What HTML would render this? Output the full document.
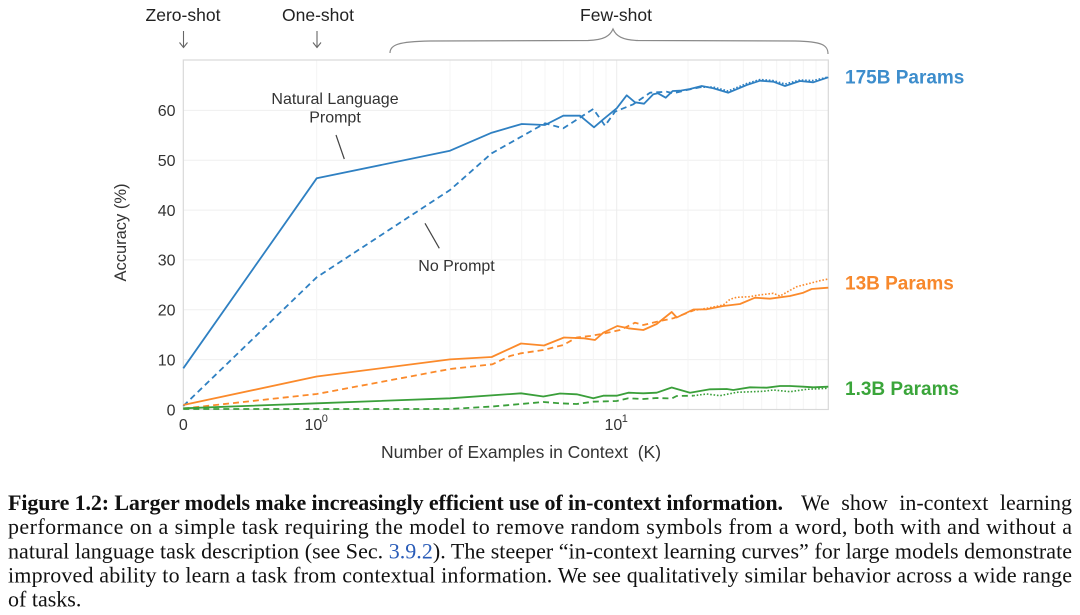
<!DOCTYPE html>
<html>
<head>
<meta charset="utf-8">
<style>
html,body{margin:0;padding:0;background:#fff;}
svg{display:block;}
</style>
</head>
<body>
<svg width="1080" height="615" viewBox="0 0 1080 615" xmlns="http://www.w3.org/2000/svg">
<rect x="0" y="0" width="1080" height="615" fill="#fff"/>

<!-- top annotations -->
<g font-family="Liberation Sans, sans-serif" font-size="17.5" fill="#222" text-anchor="middle">
  <text x="183" y="21">Zero-shot</text>
  <text x="318" y="21">One-shot</text>
  <text x="616" y="21">Few-shot</text>
</g>
<g stroke="#666" stroke-width="1.1" fill="none">
  <line x1="183.5" y1="31" x2="183.5" y2="47.5"/>
  <polyline points="179.5,42.5 183.5,47.5 187.5,42.5"/>
  <line x1="317" y1="31" x2="317" y2="47.5"/>
  <polyline points="313,42.5 317,47.5 321,42.5"/>
</g>
<path d="M390,53 C390,45 398,41.5 430,41 L588,40.5 C604,40 610,36 613,29 C616,36 622,40 638,40.5 L795,41 C822,41.5 828,45 828,54" stroke="#8a8a8a" stroke-width="1.2" fill="none"/>

<!-- gridlines -->
<g stroke="#efefef" stroke-width="1">
  <line x1="183.3" y1="359.6" x2="828.3" y2="359.6"/>
  <line x1="183.3" y1="309.8" x2="828.3" y2="309.8"/>
  <line x1="183.3" y1="259.9" x2="828.3" y2="259.9"/>
  <line x1="183.3" y1="210.1" x2="828.3" y2="210.1"/>
  <line x1="183.3" y1="160.2" x2="828.3" y2="160.2"/>
  <line x1="183.3" y1="110.4" x2="828.3" y2="110.4"/>
</g>
<g stroke="#f4f4f4" stroke-width="1">
  <line x1="316.7" y1="60" x2="316.7" y2="409.5"/>
  <line x1="450" y1="60" x2="450" y2="409.5"/>
  <line x1="491.7" y1="60" x2="491.7" y2="409.5"/>
  <line x1="521.7" y1="60" x2="521.7" y2="409.5"/>
  <line x1="545" y1="60" x2="545" y2="409.5"/>
  <line x1="563.3" y1="60" x2="563.3" y2="409.5"/>
  <line x1="580" y1="60" x2="580" y2="409.5"/>
  <line x1="593.3" y1="60" x2="593.3" y2="409.5"/>
  <line x1="606" y1="60" x2="606" y2="409.5"/>
  <line x1="616.7" y1="60" x2="616.7" y2="409.5" stroke="#ececec"/>
  <line x1="688" y1="60" x2="688" y2="409.5"/>
  <line x1="720" y1="60" x2="720" y2="409.5"/>
  <line x1="743.3" y1="60" x2="743.3" y2="409.5"/>
  <line x1="761.7" y1="60" x2="761.7" y2="409.5"/>
  <line x1="776.7" y1="60" x2="776.7" y2="409.5"/>
  <line x1="790" y1="60" x2="790" y2="409.5"/>
  <line x1="803.3" y1="60" x2="803.3" y2="409.5"/>
  <line x1="816" y1="60" x2="816" y2="409.5"/>
</g>

<!-- frame -->
<rect x="183.3" y="60" width="645" height="349.5" fill="none" stroke="#d9d9d9" stroke-width="1.2"/>

<!-- y tick labels -->
<g font-family="Liberation Sans, sans-serif" font-size="16" fill="#333" text-anchor="end">
  <text x="175.5" y="415.3">0</text>
  <text x="175.5" y="365.4">10</text>
  <text x="175.5" y="315.6">20</text>
  <text x="175.5" y="265.7">30</text>
  <text x="175.5" y="215.9">40</text>
  <text x="175.5" y="166">50</text>
  <text x="175.5" y="116.2">60</text>
</g>
<!-- x tick labels -->
<g font-family="Liberation Sans, sans-serif" fill="#333">
  <text x="183.3" y="430" font-size="16" text-anchor="middle">0</text>
  <text x="304.5" y="430" font-size="16">10</text>
  <text x="321.8" y="422" font-size="11">0</text>
  <text x="604.5" y="430" font-size="16">10</text>
  <text x="621.8" y="422" font-size="11">1</text>
</g>
<!-- axis labels -->
<text x="521" y="458" font-family="Liberation Sans, sans-serif" font-size="17.5" fill="#333" text-anchor="middle" xml:space="preserve">Number of Examples in Context  (K)</text>
<text transform="translate(126,232.5) rotate(-90)" font-family="Liberation Sans, sans-serif" font-size="16.5" fill="#333" text-anchor="middle">Accuracy (%)</text>

<!-- in-plot annotations -->
<g font-family="Liberation Sans, sans-serif" font-size="16" fill="#333" text-anchor="middle">
  <text x="335" y="104">Natural Language</text>
  <text x="335" y="122.5">Prompt</text>
  <text x="456.5" y="271">No Prompt</text>
</g>
<g stroke="#444" stroke-width="1.2">
  <line x1="336" y1="135" x2="344.3" y2="159"/>
  <line x1="425" y1="223.3" x2="439.3" y2="248.3"/>
</g>

<!-- series -->
<g fill="none" stroke-linejoin="round" stroke-linecap="butt">
  <!-- 175B -->
  <polyline stroke="#2f80c2" stroke-width="1.8" points="183.3,368.3 316.7,178.3 450,150.7 491.7,132.7 521.7,124 545,125 563.3,115.7 580,115.7 594,127.3 603.3,119.3 616.7,108.3 626.7,95.3 635,102.3 644,103.7 653.3,94.3 658,93.3 665.7,97.7 672.7,91 680,90.7 690,89 701.7,86 713.3,88.3 728.3,92.7 746.7,85 760,80.7 773.3,81.7 785,86 800,81 813.3,82.3 828.3,77.3"/>
  <polyline stroke="#2f80c2" stroke-width="1.8" stroke-dasharray="6 4" points="183.3,406 316.7,277.3 450,190 491.7,153.3 545,123.3 563.3,128.3 593.3,109 605,125.7 615,111.7 633.3,104.3 650,92.7 666.7,91.7 673.3,93.3 686.7,90 700,87.3"/>
  <polyline stroke="#2f80c2" stroke-width="1.6" stroke-dasharray="1.6 1.8" points="700,87.3 713,87 728,91 746.7,83.5 760,79.5 773,80.5 785,84 800,80 813,80.5 828.3,77"/>

  <!-- 13B -->
  <polyline stroke="#fb8a2b" stroke-width="1.8" points="183.3,405 316.7,376.5 450,359.4 491.7,357 521,343.5 544,345.5 564,337.5 584,338.3 595,340 603.3,332.7 617.3,326 628.3,328.3 643.3,330 656.7,324 671.7,312 676.7,317.5 693.3,309.5 706.7,309.3 723.3,306 740,304 755,297.7 770,298.7 790,296 803.3,292.7 811.7,289 820,288.3 828.3,287.7"/>
  <polyline stroke="#fb8a2b" stroke-width="1.8" stroke-dasharray="6 4" points="183.3,408.5 316.7,394 450,369 492.3,364.3 510,356 521,353.3 543.3,350 563.3,345 576.7,337.5 590,336 605,333.3 620,330 635,322.7 643.3,325 660,321 673.3,318.3 693.3,310.5"/>
  <polyline stroke="#fb8a2b" stroke-width="1.6" stroke-dasharray="1.6 1.8" points="693.3,310.5 706.7,308.3 723.3,305 730,299.3 736.7,297.3 750,296.7 756.7,295.3 773.3,293.3 780,296 796.7,286.7 810,283.3 820,280.7 828.3,279"/>

  <!-- 1.3B -->
  <polyline stroke="#3a9f3a" stroke-width="1.8" points="183.3,408.3 316.7,403.3 450,398.3 521,393.3 543.3,396.5 560,393.5 576.7,394.3 593.3,398.3 603.3,395.7 616.7,395.7 628.3,392.7 643.3,393.3 656.7,392.7 671.7,387.5 690,392.7 710,389.3 726.7,389 733.3,390 750,387.3 766.7,387.7 780,386 790,386 803.3,386.7 813.3,387.3 828.3,386.7"/>
  <polyline stroke="#3a9f3a" stroke-width="1.8" stroke-dasharray="6 4" points="183.3,409 450,409 492.3,406.5 521,404 543.3,402 560,403.3 576.7,404 593.3,401.7 616.7,401 628.3,398.3 643.3,399 656.7,398 671.7,398.5 676.7,396 693.3,395.7"/>
  <polyline stroke="#3a9f3a" stroke-width="1.6" stroke-dasharray="1.6 1.8" points="693.3,395.7 706.7,394 720,395.7 736.7,392.3 763.3,391.3 773.3,390 790,391.7 806.7,389.3 828.3,388.3"/>
</g>

<!-- series labels -->
<g font-family="Liberation Sans, sans-serif" font-size="19" font-weight="bold">
  <text x="845" y="83.5" fill="#3d8dcc">175B Params</text>
  <text x="845" y="289.5" fill="#f7882c">13B Params</text>
  <text x="845" y="395" fill="#3aa53a">1.3B Params</text>
</g>

<!-- caption -->
<g font-family="Liberation Serif, serif" font-size="22" fill="#111">
  <text x="8" y="510" font-weight="bold" textLength="775" lengthAdjust="spacing">Figure 1.2: Larger models make increasingly efficient use of in-context information.</text>
  <text x="1072" y="510" text-anchor="end" word-spacing="6">We show in-context learning</text>
  <text x="8" y="534.2" textLength="1064" lengthAdjust="spacing">performance on a simple task requiring the model to remove random symbols from a word, both with and without a</text>
  <text x="8" y="558.4" textLength="1064" lengthAdjust="spacing">natural language task description (see Sec. <tspan fill="#2a5cb8">3.9.2</tspan>). The steeper “in-context learning curves” for large models demonstrate</text>
  <text x="8" y="582.6" textLength="1064" lengthAdjust="spacing">improved ability to learn a task from contextual information. We see qualitatively similar behavior across a wide range</text>
  <text x="8" y="606.5">of tasks.</text>
</g>
</svg>
</body>
</html>
